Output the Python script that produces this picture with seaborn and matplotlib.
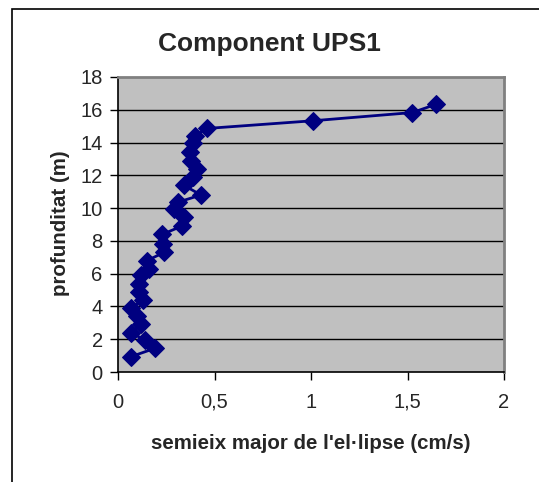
import matplotlib
matplotlib.use("Agg")
import matplotlib.pyplot as plt
import seaborn as sns
import pandas as pd
from matplotlib.patches import Rectangle

# Data
depth_m = [0.93, 1.44, 1.95, 2.4, 2.9, 3.4, 3.9, 4.4, 4.9, 5.4, 5.9, 6.3,
           6.8, 7.3, 7.8, 8.4, 8.9, 9.45, 9.95, 10.36, 10.8, 11.4, 11.9,
           12.4, 12.9, 13.4, 14.0, 14.4, 14.86, 15.33, 15.83, 16.34]
semiaxis_cms = [0.066, 0.19, 0.14, 0.066, 0.12, 0.10, 0.066, 0.13, 0.11,
                0.11, 0.12, 0.16, 0.15, 0.24, 0.235, 0.23, 0.33, 0.34,
                0.29, 0.31, 0.43, 0.34, 0.39, 0.41, 0.38, 0.373, 0.39,
                0.40, 0.46, 1.01, 1.525, 1.65]
x_ticks = [0, 0.5, 1, 1.5, 2]
x_tick_labels = ["0", "0,5", "1", "1,5", "2"]
y_ticks = [0, 2, 4, 6, 8, 10, 12, 14, 16, 18]

df = pd.DataFrame({"semieix": semiaxis_cms, "profunditat": depth_m})

sns.set_style("white")
plt.rcParams["font.family"] = ["Liberation Sans", "DejaVu Sans"]

W, H = 539, 482
fig = plt.figure(figsize=(W / 100, H / 100), dpi=100)
ax = fig.add_axes([118 / W, 1 - 372 / H, (504 - 118) / W, (372 - 77) / H])
ax.set_facecolor("#C0C0C0")

sns.lineplot(data=df, x="semieix", y="profunditat", sort=False, estimator=None,
             ax=ax, color="#000080", linewidth=2, marker="D", markersize=9,
             markeredgecolor="#000080", markerfacecolor="#000080", zorder=3)

ax.set_xlim(0, 2)
ax.set_ylim(0, 18)
ax.set_xticks(x_ticks)
ax.set_xticklabels(x_tick_labels)
ax.set_yticks(y_ticks)
ax.grid(False)
for yv in y_ticks[1:-1]:
    ax.axhline(yv, color="black", linewidth=1, zorder=1)

ax.tick_params(axis="x", pad=9)
ax.tick_params(axis="y", pad=5)
ax.tick_params(axis="both", direction="out", length=6, width=1, color="black",
               labelsize=14.5, bottom=True, left=True)
for s in ["left", "bottom"]:
    ax.spines[s].set_color("black")
    ax.spines[s].set_linewidth(1.2)
for s in ["top", "right"]:
    ax.spines[s].set_color("#808080")
    ax.spines[s].set_linewidth(2)

ax.set_xlabel("semieix major de l'el·lipse (cm/s)", fontsize=14.8,
              fontweight="bold", labelpad=16)
ax.set_ylabel("")
fig.text(60 / W, 1 - 223 / H, "profunditat (m)", rotation=90, ha="center",
         va="center", fontsize=14.8, fontweight="bold")

fig.text(269.5 / W, 1 - 44 / H, "Component UPS1", ha="center", va="center",
         fontsize=19, fontweight="bold")

# outer chart frame
fig.patches.append(Rectangle((12 / W, -0.05), 1.1, 1 - 9 / H + 0.05,
                             transform=fig.transFigure, fill=False,
                             edgecolor="black", linewidth=1.2))

fig.savefig("out.png", dpi=100)
